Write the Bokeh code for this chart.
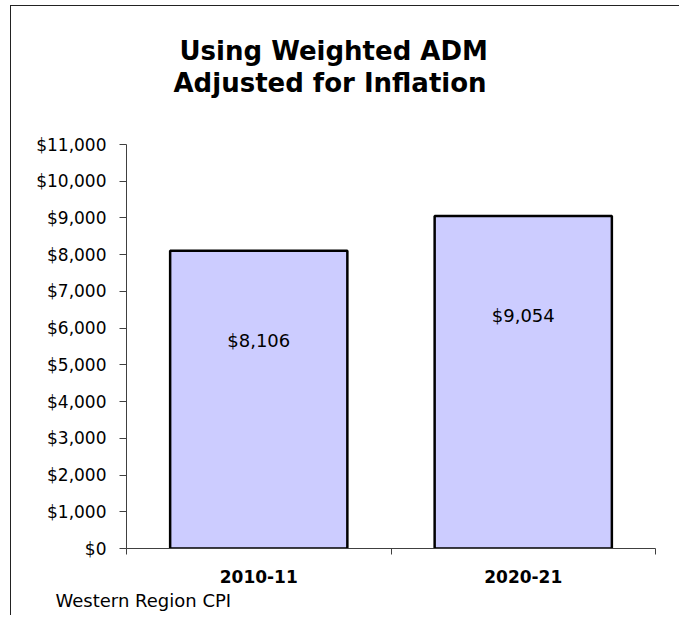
from bokeh.plotting import figure
from bokeh.models import ColumnDataSource, FixedTicker, NumeralTickFormatter, Title, Range1d
from bokeh.embed import file_html
from bokeh.resources import INLINE
from bokeh.core.properties import value

# ---- data ----
categories = ["2010-11", "2020-21"]
amounts = [8106, 9054]
y_ticks = [0, 1000, 2000, 3000, 4000, 5000, 6000, 7000, 8000, 9000, 10000, 11000]
title_lines = ["Using Weighted ADM", "Adjusted for Inflation"]
footnote = "Western Region CPI"

FONT = "DejaVu Sans"

xs = [i + 0.5 for i in range(len(categories))]
labels = ["${:,}".format(a) for a in amounts]
label_y = [a * 0.7 for a in amounts]

source = ColumnDataSource(dict(x=xs, top=amounts, label=labels, ly=label_y))

p = figure(width=669, height=610, output_backend="svg", toolbar_location=None,
           x_range=Range1d(0, len(categories)), y_range=Range1d(0, y_ticks[-1]),
           title_location=None,
           min_border_left=115, min_border_right=25, min_border_top=138, min_border_bottom=68)

p.background_fill_color = "white"
p.border_fill_color = "white"
p.outline_line_color = None
p.xgrid.visible = False
p.ygrid.visible = False
p.styles = {"border-left": "1px solid #222222", "border-top": "1px solid #222222",
            "margin-left": "10px", "margin-top": "5px"}

p.vbar(x="x", top="top", width=0.67, bottom=0, source=source,
       fill_color="#CCCCFF", line_color="black", line_width=2.5)

p.text(x="x", y="ly", text="label", source=source, text_align="center",
       text_baseline="middle", text_font=value(FONT), text_font_size="18px",
       text_color="black")

# y axis
ya = p.yaxis[0]
ya.ticker = FixedTicker(ticks=y_ticks)
ya.formatter = NumeralTickFormatter(format="$0,0")
ya.major_tick_in = 0
ya.major_tick_out = 7
ya.minor_tick_in = 0
ya.minor_tick_out = 0
ya.major_label_standoff = 13
ya.major_label_text_font = FONT
ya.major_label_text_font_size = "17px"
ya.major_label_text_color = "black"
ya.axis_line_color = "#404040"
ya.major_tick_line_color = "#404040"

# x axis
xa = p.xaxis[0]
xa.ticker = FixedTicker(ticks=xs, minor_ticks=list(range(len(categories) + 1)))
xa.major_label_overrides = {x: c for x, c in zip(xs, categories)}
xa.major_tick_in = 0
xa.major_tick_out = 0
xa.minor_tick_in = 0
xa.minor_tick_out = 6
xa.minor_tick_line_color = "#404040"
xa.axis_line_color = "#404040"
xa.major_label_standoff = 15
xa.major_label_text_font = FONT
xa.major_label_text_font_size = "17px"
xa.major_label_text_font_style = "bold"
xa.major_label_text_color = "black"

# titles (spacer nearest the frame, then line 2, then line 1)
spacer = Title(text=" ", align="left", offset=0, standoff=15,
               text_font=FONT, text_font_size="26px", text_color="white")
p.add_layout(spacer, "above")
t2 = Title(text=title_lines[1], align="left", offset=47, standoff=0,
           text_font=FONT, text_font_size="26px", text_font_style="bold", text_color="black")
p.add_layout(t2, "above")
t1 = Title(text=title_lines[0], align="left", offset=53, standoff=0,
           text_font=FONT, text_font_size="26px", text_font_style="bold", text_color="black")
p.add_layout(t1, "above")

fn = Title(text=footnote, align="left", offset=-71, standoff=4,
           text_font=FONT, text_font_size="18px", text_font_style="normal", text_color="black")
p.add_layout(fn, "below")

open("out.html", "w").write(file_html(p, INLINE))
